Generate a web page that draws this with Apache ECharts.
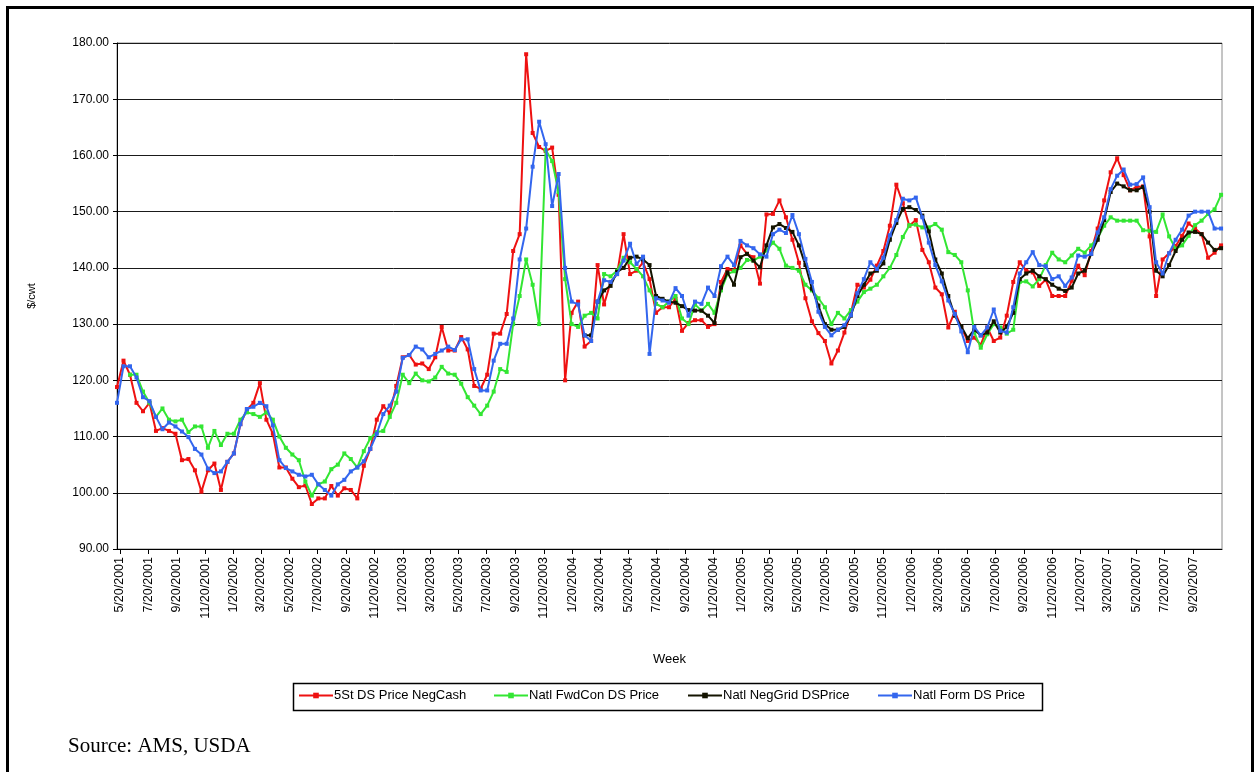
<!DOCTYPE html>
<html><head><meta charset="utf-8">
<script src="https://cdn.jsdelivr.net/npm/echarts@6/dist/echarts.min.js"></script>
<style>
html,body{margin:0;padding:0;background:#fff;overflow:hidden;width:1254px;height:772px}
#frame{position:absolute;left:6px;top:6px;width:1242px;height:800px;border:3px solid #000;box-sizing:content-box}
#chart{position:absolute;left:0;top:0;width:1254px;height:772px}
</style></head><body>
<div id="frame"></div>
<div id="chart"></div>
<script>
// biweekly observations starting 5/14/2001 (x = days since that date)
const startDate = Date.UTC(2001, 4, 14);
const endDate = Date.UTC(2007, 10, 21);
const stepDays = 14;

const tickLabels = ['5/20/2001','7/20/2001','9/20/2001','11/20/2001',
 '1/20/2002','3/20/2002','5/20/2002','7/20/2002','9/20/2002','11/20/2002',
 '1/20/2003','3/20/2003','5/20/2003','7/20/2003','9/20/2003','11/20/2003',
 '1/20/2004','3/20/2004','5/20/2004','7/20/2004','9/20/2004','11/20/2004',
 '1/20/2005','3/20/2005','5/20/2005','7/20/2005','9/20/2005','11/20/2005',
 '1/20/2006','3/20/2006','5/20/2006','7/20/2006','9/20/2006','11/20/2006',
 '1/20/2007','3/20/2007','5/20/2007','7/20/2007','9/20/2007'];

const yTicks = [90,100,110,120,130,140,150,160,170,180];

const seriesNames = ['5St DS Price NegCash','Natl FwdCon DS Price','Natl NegGrid DSPrice','Natl Form DS Price'];

const red = [118.8,123.5,121,116,114.5,116,111,111.5,111,110.5,
 105.8,106,104,100.2,104,105.2,100.5,105.5,107,112.2,
 114.8,116,119.5,113,110.5,104.5,104.5,102.5,101,101.3,
 98,99,99,101.2,99.5,100.8,100.5,99,104.8,107.8,
 113,115.4,114.2,119,124.1,124.5,122.8,123,122,124.1,
 129.5,125.3,125.3,127.7,125.5,119,118.5,121,128.3,128.3,
 131.8,143,146,178,164,161.5,160.8,161.4,153,120,
 132,134,126,127,140.5,133.5,137.5,138.9,146,138.9,
 139.5,141,138,132,133,133,134.5,128.8,130.2,130.7,
 130.7,129.5,130,137.5,139.8,139.5,144,142.5,141.9,137.2,
 149.5,149.6,152,149,145,140.9,134.6,130.5,128.4,127,
 123,125.3,128.5,132,137,136.5,137.9,140.4,143,147.5,
 154.8,151.5,147.5,148.5,143.2,141,136.5,135.3,129.4,132.2,
 129.4,127,127.6,126.3,129.4,127,127.6,131.5,137.5,141,
 139.5,139.2,136.8,137.9,135,135,135,137.7,140.4,138.7,
 143,147,152,157,159.5,156.5,153.8,154.4,154.5,145.6,
 135,141.5,142.6,143.9,145.7,147.9,147,146,141.8,142.7,
 144];

const green = [null,null,121,121,118,116,113.5,115,113,112.7,
 113,110.8,111.8,111.8,108,111,108.5,110.5,110.5,113,
 114.3,114,113.5,114.3,113,110,108,106.8,105.8,102,
 99.5,101.5,102,104.2,105,107,106,104.5,107.4,109.7,
 110.8,111,113.5,116,121,119.5,121.2,120,119.8,120.5,
 122.4,121.2,121,119.4,117,115.5,114,115.5,118,122,
 121.5,130,135,141.5,137,130,161,159,153.5,138,
 130,129.5,131.5,132,131,138.9,138.5,139.5,141.8,141,
 139.8,138.5,136,133.6,133,134,135,131,130,133.5,
 132.4,133.6,132,136,138.9,139.4,140,141.4,141.3,142,
 143.1,144.5,143.4,140.4,140,139.5,137,136,134.6,133,
 130,132,131,132.5,134,135.7,136.3,137,138.5,140,
 142.3,145.5,147.6,147.7,147.2,147.2,147.8,146.8,142.8,142.3,
 141,136,128.5,125.8,128.2,130,129.4,128.3,129,137.5,
 137.6,136.7,138,140.5,142.7,141.5,141,142.2,143.4,142.7,
 144,145.3,147.5,149,148.4,148.4,148.4,148.4,146.7,146.6,
 146.4,149.5,145.6,143.4,144,145.7,147.6,148.4,149.6,150.4,
 153];

// black series begins at observation 72
const blackStart = 72;
const black = [128,128,134,136,136.8,139.3,140,141.8,
 142,141.5,140.5,135,134.5,134,133.8,133.2,132.5,132.4,
 132.4,131.5,130.2,136.5,139.2,137,141.9,142.5,141.3,140.1,
 144,147.2,147.8,147.1,146.4,144,140.5,136.3,133.3,130,
 129,129,129.5,131.5,135,137,139,139.5,140.8,145,
 148,150.5,150.8,150.3,149.3,146.5,141.5,139,135,131.5,
 129.6,127.5,129,128,128.5,130.5,128.5,129.5,132,138,
 139,139.5,138.5,138,137,136.3,135.9,136.5,139,139.5,
 142.5,145,148.5,153.5,155,154.5,153.8,153.8,154.4,150,
 139.5,138.5,140.5,143,145,146.3,146.4,146,144.5,143.2,
 143.5];

const blue = [116,122.5,122.5,120.5,117,116.3,113.5,111.3,112.5,111.8,
 110.9,109.9,107.8,106.8,104.3,103.5,103.8,105.5,107,112.2,
 114.9,115.3,116,115.4,112,105.8,104.4,103.8,103.2,102.9,
 103.2,101.5,100.5,99.5,101.5,102.3,103.8,104.5,105.6,107.8,
 110.5,114,115.5,118,124,124.5,126,125.5,124.1,124.7,
 125.3,126,125.4,127.3,127.3,122,118.2,118.2,123.5,126.5,
 126.5,131,141.5,147,158,166,162,151,156.7,140,
 134,133.5,128,127,134,137.8,137.5,138.9,141.3,144.3,
 140.7,142,124.7,134.6,134.2,133.8,136.4,135,131.5,134,
 133.6,136.5,135,140.3,142,140.5,144.8,144,143.5,142.4,
 142,146,146.8,146.2,149.4,146,141.6,137.5,132.2,129.5,
 128,129,129.8,131.6,135.5,138,141,139.8,141.8,145.8,
 148.5,152.3,152,152.5,149,144.5,140.5,137.6,134.2,131.8,
 128.7,125,129.5,128,129.4,132.6,128.8,128.5,133,139,
 141,142.8,140.5,140.3,138,138.5,136.8,138.3,142.2,142,
 142.5,146.3,149,154,156.4,157.5,154.8,154.9,156.1,150.8,
 141,139,142.6,145,146.8,149.3,150,150,150,147,
 147];

const colors = ['#EE1111','#33E633','#141400','#3366EE'];

const DAY = 86400000;
function dayOf(i){ return i*stepDays; }
function toPairs(vals, offset){
  const out=[];
  vals.forEach((v,k)=>{ if(v!==null) out.push([dayOf(k+offset), v]); });
  return out;
}
function parseLabel(s){ const p=s.split('/').map(Number); return Math.round((Date.UTC(p[2],p[0]-1,p[1])-startDate)/DAY); }
const tickDays = tickLabels.map(parseLabel);
const labelByDay = {};
tickDays.forEach((d,i)=>{ labelByDay[d]=tickLabels[i]; });

const allVals=[[red,0],[green,0],[black,blackStart],[blue,0]];
const series = allVals.map((pair,idx)=>({
  name: seriesNames[idx], type:'line', data: toPairs(pair[0],pair[1]),
  symbol:'rect', symbolSize:4, showAllSymbol:true,
  lineStyle:{width:2,color:colors[idx]}, itemStyle:{color:colors[idx]},
  emphasis:{disabled:true}, animation:false, z: 2+idx
}));

// one legend per item so each sits where the reference puts it
const legendLefts=[298,493,687,877];
const legends = seriesNames.map((n,i)=>({
  show:true, left:legendLefts[i], top:689, orient:'horizontal', padding:0,
  itemWidth:34, itemHeight:7, itemGap:0, data:[n],
  textStyle:{fontSize:13,color:'#000',fontFamily:'Liberation Sans',padding:[0,0,0,-4]}
}));

const chart = echarts.init(document.getElementById('chart'), null, {renderer:'canvas'});
chart.setOption({
  animation:false,
  backgroundColor:'transparent',
  textStyle:{fontFamily:'Liberation Sans, Arial, sans-serif'},
  grid:{left:117, top:43, width:1105, height:506, show:true, borderColor:'#8a8a8a', borderWidth:1, containLabel:false},
  xAxis:{
    type:'value', min:0, max:Math.round((endDate-startDate)/DAY),
    name:'Week', nameLocation:'middle', nameGap:104,
    nameTextStyle:{fontSize:13,color:'#000',fontFamily:'Liberation Sans'},
    axisLine:{show:true,onZero:false,lineStyle:{color:'#000',width:1}},
    axisTick:{show:true,customValues:tickDays,length:5,lineStyle:{color:'#000'}},
    axisLabel:{show:true,customValues:tickDays,rotate:90,margin:8,fontSize:12.5,color:'#000',
      fontFamily:'Liberation Sans', showMinLabel:true, showMaxLabel:true,
      formatter:function(v){ return labelByDay[Math.round(v)] || ''; }},
    splitLine:{show:false}, minorTick:{show:false}
  },
  yAxis:{
    type:'value', min:yTicks[0], max:yTicks[yTicks.length-1], interval:10,
    name:'$/cwt', nameLocation:'middle', nameGap:80, nameRotate:90,
    nameTextStyle:{fontSize:11,color:'#000',fontFamily:'Liberation Sans'},
    axisLine:{show:true,lineStyle:{color:'#000',width:1}},
    axisTick:{show:true,length:4,inside:false,lineStyle:{color:'#000'}},
    axisLabel:{fontSize:12,color:'#000',margin:8,fontFamily:'Liberation Sans',formatter:v=>v.toFixed(2)},
    splitLine:{show:true,lineStyle:{color:'#1a1a1a',width:1}}
  },
  legend: legends,
  graphic:[{
    type:'rect', shape:{x:293.5, y:683.5, width:749, height:27},
    style:{fill:'none', stroke:'#000', lineWidth:1.5}, silent:true
  },{
    type:'text', left:68, top:736,
    style:{text:'Source: AMS, USDA', font:'21px "Liberation Serif", "Times New Roman", serif', fill:'#000'}
  }],
  series: series
});
</script>
</body></html>
